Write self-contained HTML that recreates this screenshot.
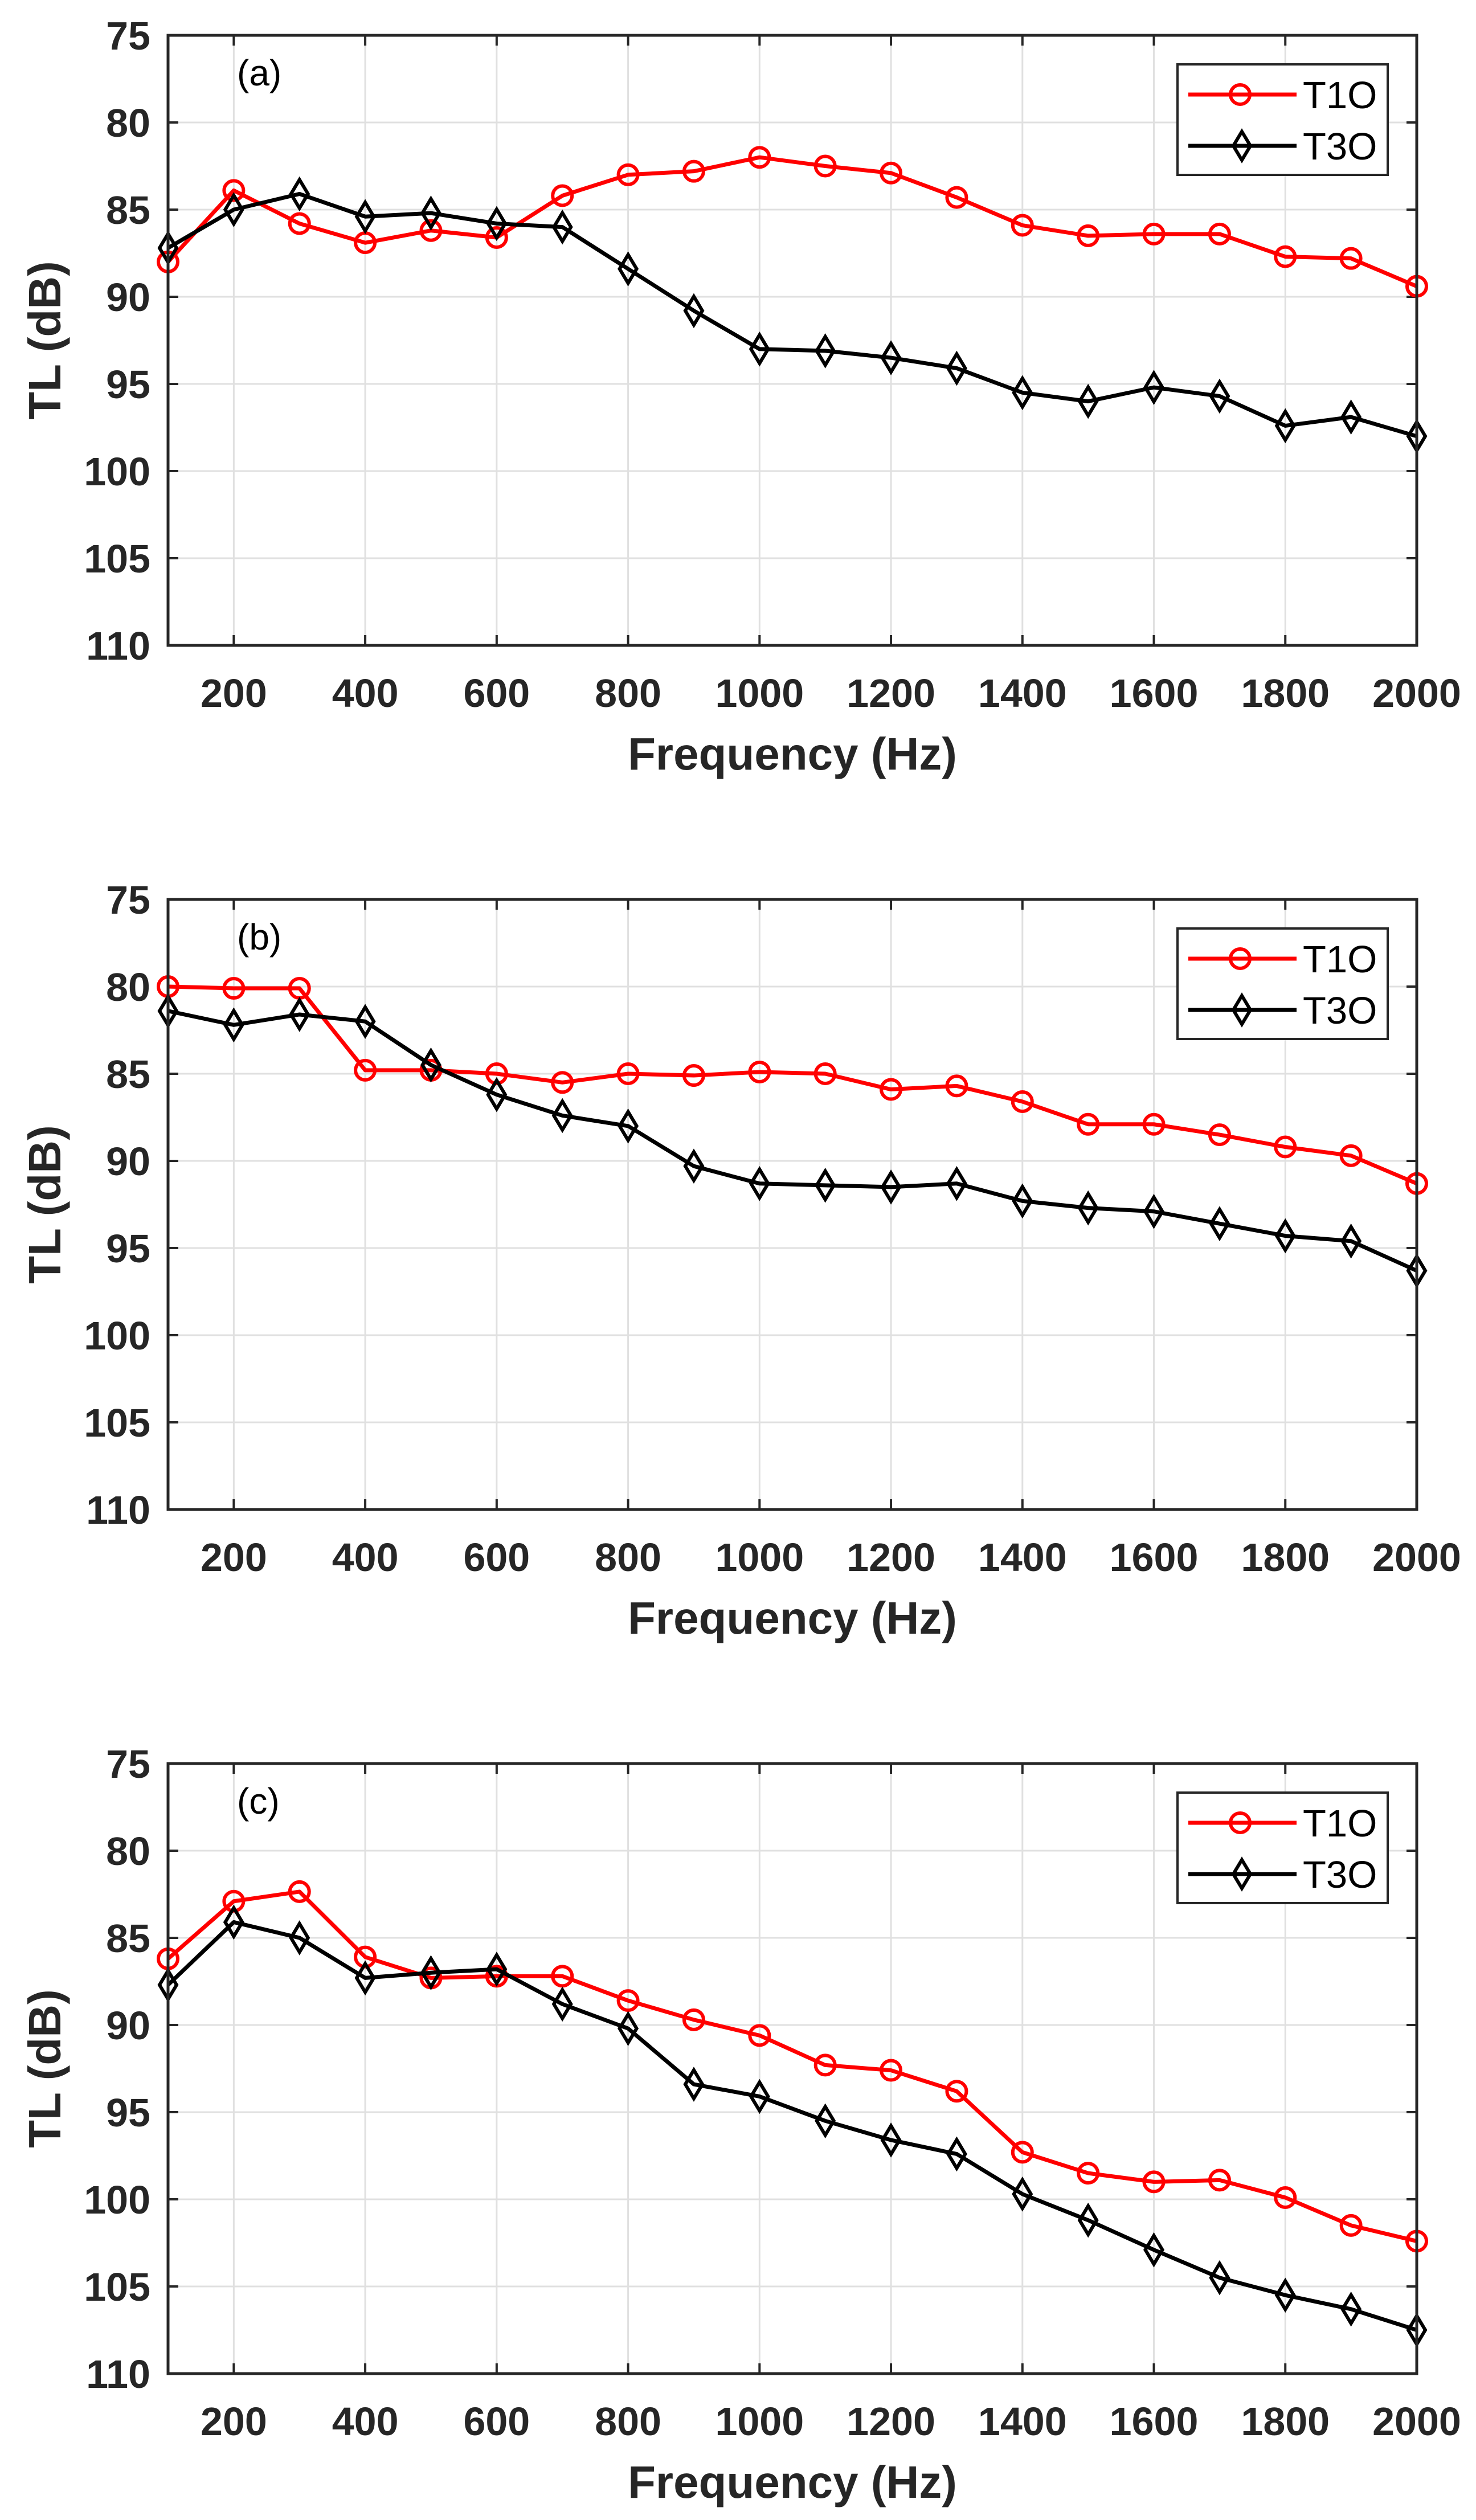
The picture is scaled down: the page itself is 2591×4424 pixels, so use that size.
<!DOCTYPE html>
<html><head><meta charset="utf-8"><style>
html,body{margin:0;padding:0;background:#fff;}
svg{display:block;font-family:"Liberation Sans",Arial,sans-serif;}
</style></head><body>
<svg id="fig" width="2591" height="4424" viewBox="0 0 2591 4424" xmlns="http://www.w3.org/2000/svg"></svg>
<script>
const freqs = [100,200,300,400,500,600,700,800,900,1000,1100,1200,1300,1400,1500,1600,1700,1800,1900,2000];
const xTicks = [200,400,600,800,1000,1200,1400,1600,1800,2000];
const yTicks = [75,80,85,90,95,100,105,110];
const panelLabels = ["(a)","(b)","(c)"];
const seriesNames = ["T1O","T3O"];
const t1oA = [88.0,83.9,85.8,86.9,86.2,86.6,84.2,83.0,82.8,82.0,82.5,82.9,84.3,85.9,86.5,86.4,86.4,87.7,87.8,89.4];
const t3oA = [87.2,85.0,84.1,85.4,85.2,85.8,86.0,88.4,90.8,93.0,93.1,93.5,94.1,95.5,96.0,95.2,95.7,97.4,96.9,98.0];
const t1oB = [80.0,80.1,80.1,84.8,84.8,85.0,85.5,85.0,85.1,84.9,85.0,85.9,85.7,86.6,87.9,87.9,88.5,89.2,89.7,91.3];
const t3oB = [81.4,82.2,81.6,82.0,84.5,86.2,87.4,88.0,90.3,91.3,91.4,91.5,91.3,92.3,92.7,92.9,93.6,94.3,94.6,96.3];
const t1oC = [86.2,82.9,82.35,86.1,87.3,87.2,87.2,88.6,89.7,90.6,92.3,92.6,93.8,97.3,98.5,99.0,98.9,99.9,101.5,102.4];
const t3oC = [87.7,84.1,85.0,87.3,87.0,86.8,88.8,90.2,93.4,94.1,95.5,96.6,97.4,99.7,101.2,102.9,104.5,105.5,106.3,107.5];
const panelData = [[t1oA,t3oA],[t1oB,t3oB],[t1oC,t3oC]];

const NS = "http://www.w3.org/2000/svg";
const svg = document.getElementById('fig');
function mk(tag, attrs, parent){
  const e = document.createElementNS(NS, tag);
  for (const k in attrs) e.setAttribute(k, attrs[k]);
  (parent||svg).appendChild(e);
  return e;
}
const L = 295, R = 2487, tops = [62,1579,3096], H = 1071;
const xMin = 100, xMax = 2000, yMin = 75, yMax = 110;

function diamond(g, cx, cy){
  return mk('path',{d:`M${cx} ${cy-25}L${cx+15} ${cy}L${cx} ${cy+25}L${cx-15} ${cy}Z`,fill:'none',stroke:'#000','stroke-width':6},g);
}

panelData.forEach((pd, pi) => {
  const T = tops[pi], B = T + H;
  const sx = v => L + (v - xMin) / (xMax - xMin) * (R - L);
  const sy = v => T + (v - yMin) / (yMax - yMin) * H;
  const g = mk('g',{});
  
  
  xTicks.forEach(t => {
    const l = mk('line',{x1:sx(t),x2:sx(t),y1:T,y2:B,stroke:'#e0e0e0','stroke-width':3},g);
    
    
  });
  yTicks.forEach(t => {
    const l = mk('line',{x1:L,x2:R,y1:sy(t),y2:sy(t),stroke:'#e0e0e0','stroke-width':3},g);
    
    
  });
  xTicks.forEach(t => {
    mk('line',{x1:sx(t),x2:sx(t),y1:B,y2:B-18,stroke:'#262626','stroke-width':4},g);
    mk('line',{x1:sx(t),x2:sx(t),y1:T,y2:T+18,stroke:'#262626','stroke-width':4},g);
    const tx = mk('text',{x:sx(t),y:B+108,'text-anchor':'middle','font-size':70,'font-weight':'bold',fill:'#262626'},g);
    tx.textContent = t;
    
    
  });
  yTicks.forEach(t => {
    mk('line',{x1:L,x2:L+18,y1:sy(t),y2:sy(t),stroke:'#262626','stroke-width':4},g);
    mk('line',{x1:R,x2:R-18,y1:sy(t),y2:sy(t),stroke:'#262626','stroke-width':4},g);
    const tx = mk('text',{x:264,y:sy(t)+25,'text-anchor':'end','font-size':70,'font-weight':'bold',fill:'#262626'},g);
    tx.textContent = t;
    
    
  });
  const colors = ['#ff0000','#000000'];
  pd.forEach((vals, si) => {
    const sg = mk('g',{},g);
    
    
    const pts = vals.map((v,i) => sx(freqs[i]) + ',' + sy(v)).join(' ');
    mk('polyline',{points:pts,fill:'none',stroke:colors[si],'stroke-width':7,'stroke-linejoin':'round'},sg);
    vals.forEach((v,i) => {
      let m;
      if (si === 0) m = mk('circle',{cx:sx(freqs[i]),cy:sy(v),r:17,fill:'none',stroke:'#ff0000','stroke-width':6},sg);
      else m = diamond(sg, sx(freqs[i]), sy(v));
      
      
    });
  });
  const box = mk('rect',{x:L,y:T,width:R-L,height:H,fill:'none',stroke:'#262626','stroke-width':5},g);
  
  
  const pl = mk('text',{x:416,y:T+88,'font-size':64,fill:'#000'},g);
  pl.textContent = panelLabels[pi];
  
  
  const xl = mk('text',{x:(L+R)/2,y:B+218,'text-anchor':'middle','font-size':80,'font-weight':'bold',fill:'#262626'},g);
  xl.textContent = 'Frequency (Hz)';
  
  
  const yl = mk('text',{x:0,y:0,'text-anchor':'middle','font-size':80,'font-weight':'bold',fill:'#262626',transform:`translate(106 ${(T+B)/2}) rotate(-90)`},g);
  yl.textContent = 'TL (dB)';
  
  
  const lg = mk('g',{},g);
  
  
  mk('rect',{x:2067,y:T+51,width:369,height:194,fill:'#fff',stroke:'#262626','stroke-width':4},lg);
  seriesNames.forEach((nm, si) => {
    const ry = T + 104 + si*90;
    const e = mk('g',{},lg);
    
    
    mk('line',{x1:2086,x2:2276,y1:ry,y2:ry,stroke:colors[si],'stroke-width':7},e);
    if (si === 0) mk('circle',{cx:2177,cy:ry,r:17,fill:'none',stroke:'#ff0000','stroke-width':6},e);
    else diamond(e, 2180, ry);
    const t = mk('text',{x:2287,y:ry+24,'font-size':67,fill:'#000'},e);
    t.textContent = nm;
  });
});
</script>
</body></html>
